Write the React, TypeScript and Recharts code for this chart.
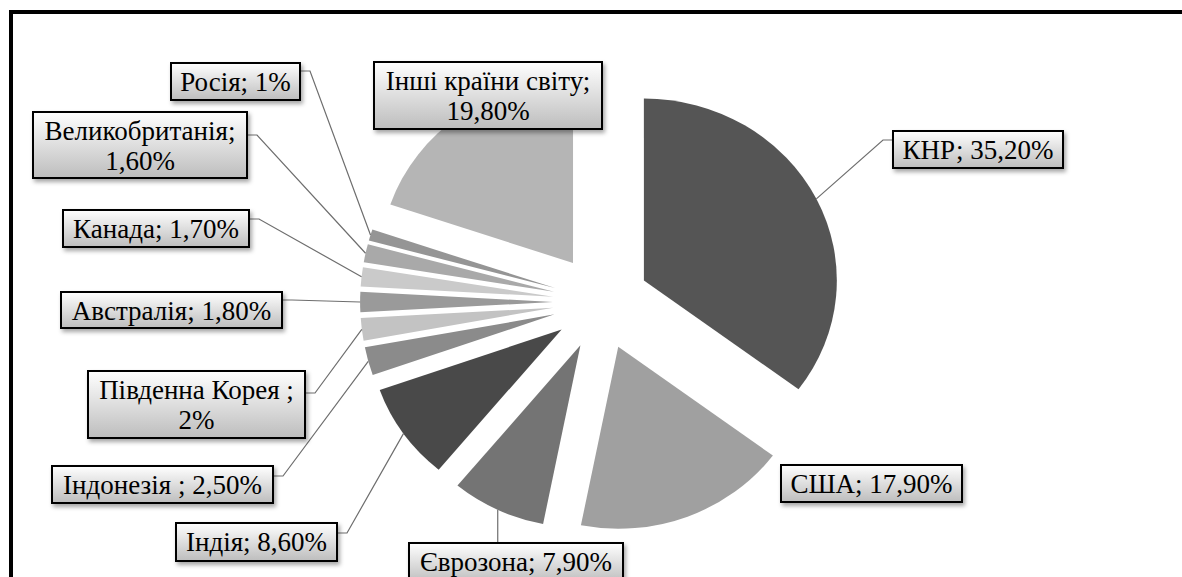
import React from 'react';
import { PieChart, Pie, Cell, Sector } from 'recharts';

const categories = ['КНР', 'США', 'Єврозона', 'Індія', 'Індонезія', 'Південна Корея', 'Австралія', 'Канада', 'Великобританія', 'Росія', 'Інші країни світу'];
const shares = [35.2, 17.9, 7.9, 8.6, 2.5, 2, 1.8, 1.7, 1.6, 1, 19.8];
const labelTexts: string[][] = [
  ['КНР; 35,20%'],
  ['США; 17,90%'],
  ['Єврозона; 7,90%'],
  ['Індія; 8,60%'],
  ['Індонезія ; 2,50%'],
  ['Південна Корея ;', '2%'],
  ['Австралія; 1,80%'],
  ['Канада; 1,70%'],
  ['Великобританія;', '1,60%'],
  ['Росія; 1%'],
  ['Інші країни світу;', '19,80%'],
];
const sliceColors = ['#555555', '#a0a0a0', '#747474', '#494949', '#8b8b8b', '#c3c3c3', '#9a9a9a', '#cacaca', '#a9a9a9', '#959595', '#b5b5b5'];

// label box layout (x, y, w, h, leader side, anchor y)
type Box = { x: number; y: number; w: number; h: number; side: 'left' | 'right' | 'top' | 'none'; ay: number };
const labelBoxes: Box[] = [
  { x: 893, y: 131, w: 170, h: 37, side: 'left', ay: 140 },
  { x: 781, y: 465, w: 181, h: 37, side: 'none', ay: 0 },
  { x: 409, y: 543, w: 214, h: 40, side: 'top', ay: 0 },
  { x: 176, y: 523, w: 161, h: 38, side: 'right', ay: 533 },
  { x: 52, y: 466, w: 221, h: 37, side: 'right', ay: 476 },
  { x: 88, y: 371, w: 217, h: 67, side: 'right', ay: 393 },
  { x: 61, y: 292, w: 221, h: 36, side: 'right', ay: 300 },
  { x: 63, y: 210, w: 186, h: 37, side: 'right', ay: 219 },
  { x: 33, y: 112, w: 214, h: 66, side: 'right', ay: 135 },
  { x: 171, y: 63, w: 129, h: 37, side: 'right', ay: 71 },
  { x: 374, y: 62, w: 228, h: 67, side: 'none', ay: 0 },
];

const data = categories.map((name, i) => ({ name, value: shares[i] }));

const EXPLODE = 48;
const SX = 1.06;
const RAD = Math.PI / 180;
const FONT = '"Liberation Serif", "Times New Roman", serif';

function ExplodedSector(props: any) {
  const { cx, cy, startAngle, endAngle } = props;
  const mid = (startAngle + endAngle) / 2;
  const ax = cx + Math.cos(mid * RAD) * EXPLODE;
  const ay = cy - Math.sin(mid * RAD) * EXPLODE;
  return (
    <g transform={`translate(${ax},${ay}) scale(${SX},1) translate(${-ax},${-ay})`}>
      <Sector {...props} cx={ax} cy={ay} stroke="none" />
    </g>
  );
}

function renderLabel(props: any) {
  const { cx, cy, midAngle, outerRadius, index } = props;
  const L = labelBoxes[index];
  const lines = labelTexts[index];
  const ux = Math.cos(midAngle * RAD);
  const uy = -Math.sin(midAngle * RAD);
  const px = cx + ux * EXPLODE + ux * outerRadius * SX;
  const py = cy + uy * EXPLODE + uy * outerRadius;
  let pts = '';
  if (L.side === 'right') pts = `${px},${py} ${L.x + L.w + 10},${L.ay} ${L.x + L.w},${L.ay}`;
  else if (L.side === 'left') pts = `${px},${py} ${L.x - 10},${L.ay} ${L.x},${L.ay}`;
  else if (L.side === 'top') pts = `${px},${py} ${px},${L.y}`;
  return (
    <g key={`lbl-${index}`}>
      {pts && <polyline points={pts} fill="none" stroke="#6e6e6e" strokeWidth={1.2} />}
      <rect x={L.x} y={L.y} width={L.w} height={L.h} fill="url(#boxGrad)" stroke="#000" strokeWidth={2} filter="url(#boxShadow)" />
      {lines.map((t, i) => (
        <text key={i} x={L.x + L.w / 2} y={L.y + 28 + i * 30} textAnchor="middle" fontFamily={FONT} fontSize={27} fill="#000">
          {t}
        </text>
      ))}
    </g>
  );
}

export default function App() {
  return (
    <div style={{ position: 'absolute', left: 0, top: 0, width: 1182, height: 577, overflow: 'hidden', background: '#fff' }}>
      <svg width={0} height={0} style={{ position: 'absolute' }}>
        <defs>
          <linearGradient id="boxGrad" x1="0" y1="0" x2="0" y2="1">
            <stop offset="0%" stopColor="#ffffff" />
            <stop offset="100%" stopColor="#bdbdbd" />
          </linearGradient>
          <filter id="boxShadow" x="-10%" y="-20%" width="130%" height="160%">
            <feDropShadow dx="2" dy="3" stdDeviation="2" floodColor="#000" floodOpacity="0.35" />
          </filter>
        </defs>
      </svg>
      <div style={{ position: 'absolute', left: 9, top: 10, width: 1300, height: 700, borderTop: '4px solid #000', borderLeft: '4px solid #000' }} />
      <div style={{ position: 'absolute', left: 0, top: 0 }}>
        <PieChart width={1182} height={577} margin={{ top: 0, right: 0, bottom: 0, left: 0 }}>
          <Pie
            data={data}
            dataKey="value"
            nameKey="name"
            cx={601}
            cy={302}
            outerRadius={182}
            innerRadius={0}
            startAngle={90}
            endAngle={-270}
            stroke="none"
            shape={ExplodedSector}
            label={renderLabel}
            labelLine={false}
            isAnimationActive={false}
          >
            {data.map((d, i) => (
              <Cell key={d.name} fill={sliceColors[i]} />
            ))}
          </Pie>
        </PieChart>
      </div>
    </div>
  );
}
